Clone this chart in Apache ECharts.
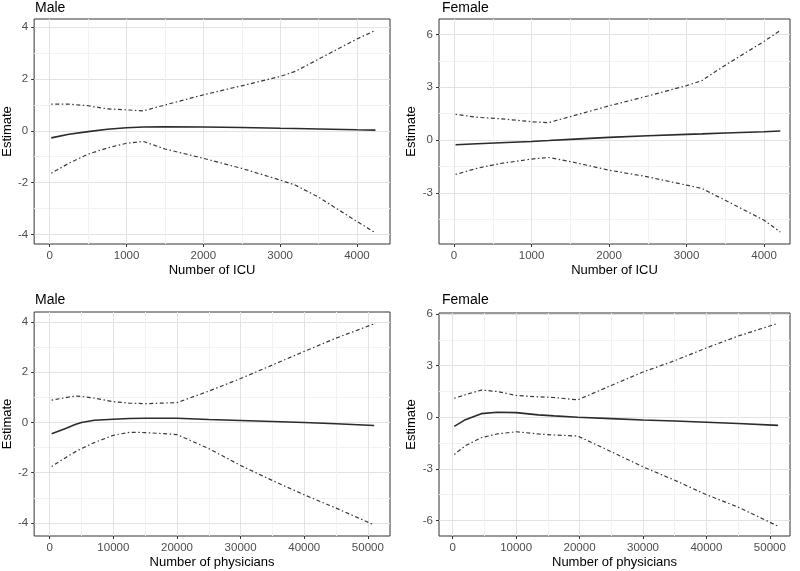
<!DOCTYPE html>
<html>
<head>
<meta charset="utf-8">
<script src="https://cdn.jsdelivr.net/npm/echarts@6/dist/echarts.min.js"></script>
<style>html,body{margin:0;padding:0;background:#fff;}#c{width:800px;height:571px;}</style>
</head>
<body>
<div id="c"></div>
<script>
// ---------- Data ----------
// Panel A: Male, Number of ICU
var icuMaleX     = [20, 250, 500, 750, 1000, 1220, 1500, 2000, 2500, 3000, 3200, 3500, 4000, 4240];
var icuMaleEst   = [-0.27, -0.13, -0.03, 0.06, 0.12, 0.15, 0.16, 0.15, 0.13, 0.10, 0.09, 0.07, 0.04, 0.03];
var icuMaleUpper = [1.03, 1.03, 0.97, 0.85, 0.81, 0.77, 1.00, 1.39, 1.74, 2.10, 2.30, 2.77, 3.55, 3.88];
var icuMaleLower = [-1.64, -1.25, -0.90, -0.66, -0.48, -0.41, -0.70, -1.06, -1.45, -1.90, -2.10, -2.56, -3.50, -3.94];

// Panel B: Female, Number of ICU
var icuFemaleX     = [20, 300, 600, 1000, 1220, 1500, 2000, 2500, 3000, 3200, 3500, 4000, 4210];
var icuFemaleEst   = [-0.27, -0.21, -0.15, -0.08, -0.03, 0.04, 0.15, 0.24, 0.32, 0.35, 0.40, 0.47, 0.51];
var icuFemaleUpper = [1.46, 1.29, 1.21, 1.04, 0.99, 1.33, 1.94, 2.50, 3.09, 3.38, 4.25, 5.60, 6.22];
var icuFemaleLower = [-1.95, -1.60, -1.33, -1.08, -0.99, -1.22, -1.71, -2.09, -2.56, -2.75, -3.42, -4.55, -5.22];

// Panel C: Male, Number of physicians
var phyMaleX     = [300, 2500, 4000, 5000, 7000, 10000, 12500, 15000, 17500, 20000, 25000, 30000, 35000, 40000, 45000, 51000];
var phyMaleEst   = [-0.45, -0.24, -0.08, 0.00, 0.09, 0.13, 0.16, 0.17, 0.17, 0.17, 0.12, 0.08, 0.04, 0.00, -0.05, -0.12];
var phyMaleUpper = [0.89, 0.99, 1.05, 1.04, 0.97, 0.83, 0.77, 0.75, 0.77, 0.79, 1.25, 1.75, 2.29, 2.83, 3.36, 3.93];
var phyMaleLower = [-1.75, -1.40, -1.17, -1.04, -0.80, -0.51, -0.39, -0.40, -0.44, -0.48, -1.04, -1.71, -2.31, -2.88, -3.41, -4.08];

// Panel D: Female, Number of physicians
var phyFemaleX     = [250, 2000, 4500, 7000, 10000, 13500, 16000, 19700, 25000, 30000, 35000, 40000, 45000, 51300];
var phyFemaleEst   = [-0.53, -0.14, 0.21, 0.29, 0.27, 0.14, 0.08, 0.00, -0.08, -0.16, -0.22, -0.29, -0.36, -0.47];
var phyFemaleUpper = [1.11, 1.31, 1.58, 1.50, 1.27, 1.19, 1.15, 1.01, 1.85, 2.63, 3.29, 4.03, 4.72, 5.46];
var phyFemaleLower = [-2.16, -1.65, -1.19, -0.97, -0.84, -0.97, -1.03, -1.09, -2.00, -2.88, -3.66, -4.50, -5.22, -6.33];

// Tick labels
var icuTicks      = [0, 1000, 2000, 3000, 4000];
var icuMinor      = [500, 1500, 2500, 3500];
var phyTicks      = [0, 10000, 20000, 30000, 40000, 50000];
var phyMinor      = [5000, 15000, 25000, 35000, 45000];
var maleYTicks    = [-4, -2, 0, 2, 4];
var maleYMinor    = [-3, -1, 1, 3];
var femaleYTicks  = [-6, -3, 0, 3, 6];
var femaleYMinor  = [-4.5, -1.5, 1.5, 4.5];

var panelTitles = ['Male', 'Female', 'Male', 'Female'];
var xNames = ['Number of ICU', 'Number of ICU', 'Number of physicians', 'Number of physicians'];
var yName = 'Estimate';

// ---------- Layout ----------
var FONT = 'Liberation Sans, Arial, sans-serif';
var panels = [
  {grid: {left: 32, top: 19, width: 358, height: 225}, xr: [-203, 4430], yr: [-4.37, 4.32],
   xt: icuTicks, xm: icuMinor, yt: maleYTicks, ym: maleYMinor,
   x: icuMaleX, est: icuMaleEst, up: icuMaleUpper, lo: icuMaleLower, yGap: 17, tTop: -4},
  {grid: {left: 439, top: 19, width: 351, height: 225}, xr: [-194, 4335], yr: [-5.9, 6.87],
   xt: icuTicks, xm: icuMinor, yt: femaleYTicks, ym: femaleYMinor,
   x: icuFemaleX, est: icuFemaleEst, up: icuFemaleUpper, lo: icuFemaleLower, yGap: 21, tTop: -4},
  {grid: {left: 32, top: 312, width: 358, height: 224}, xr: [-2450, 53480], yr: [-4.52, 4.4],
   xt: phyTicks, xm: phyMinor, yt: maleYTicks, ym: maleYMinor,
   x: phyMaleX, est: phyMaleEst, up: phyMaleUpper, lo: phyMaleLower, yGap: 17, tTop: 288},
  {grid: {left: 439, top: 313, width: 351, height: 223}, xr: [-2160, 53180], yr: [-6.9, 6.06],
   xt: phyTicks, xm: phyMinor, yt: femaleYTicks, ym: femaleYMinor,
   x: phyFemaleX, est: phyFemaleEst, up: phyFemaleUpper, lo: phyFemaleLower, yGap: 21, tTop: 288}
];

function zip(xs, ys) { return xs.map(function (v, i) { return [v, ys[i]]; }); }
function plain(v) { return String(v); }

var option = {
  backgroundColor: '#ffffff',
  animation: false,
  textStyle: {fontFamily: FONT},
  title: [], grid: [], xAxis: [], yAxis: [], series: []
};

panels.forEach(function (p, i) {
  option.title.push({
    text: panelTitles[i], left: p.grid.left - 2, top: p.tTop,
    textStyle: {fontSize: 14, fontWeight: 'normal', color: '#000', fontFamily: FONT}
  });
  option.grid.push({
    left: p.grid.left, top: p.grid.top, width: p.grid.width, height: p.grid.height,
    show: true, borderColor: '#333333', borderWidth: 1, backgroundColor: '#ffffff'
  });
  var gi = i;
  var minorX = {
    type: 'value', gridIndex: gi, min: p.xr[0], max: p.xr[1], position: 'bottom',
    axisLine: {show: false, onZero: false}, axisLabel: {show: false},
    axisTick: {show: false, customValues: p.xm},
    splitLine: {show: true, lineStyle: {color: '#f2f2f2', width: 1}}
  };
  var mainX = {
    type: 'value', gridIndex: gi, min: p.xr[0], max: p.xr[1], position: 'bottom',
    name: xNames[i], nameLocation: 'middle', nameGap: 20,
    nameTextStyle: {fontSize: 13, color: '#000', fontFamily: FONT},
    axisLine: {show: false, onZero: false},
    axisTick: {show: true, length: 3, lineStyle: {color: '#333', width: 1}, customValues: p.xt},
    axisLabel: {show: true, margin: 6, fontSize: 11.5, color: '#4d4d4d', fontFamily: FONT,
                customValues: p.xt, formatter: plain},
    splitLine: {show: true, lineStyle: {color: '#e3e3e3', width: 1}}
  };
  var minorY = {
    type: 'value', gridIndex: gi, min: p.yr[0], max: p.yr[1], position: 'left',
    axisLine: {show: false, onZero: false}, axisLabel: {show: false},
    axisTick: {show: false, customValues: p.ym},
    splitLine: {show: true, lineStyle: {color: '#f2f2f2', width: 1}}
  };
  var mainY = {
    type: 'value', gridIndex: gi, min: p.yr[0], max: p.yr[1], position: 'left',
    name: yName, nameLocation: 'middle', nameGap: p.yGap, nameRotate: 90,
    nameTextStyle: {fontSize: 13, color: '#000', fontFamily: FONT},
    axisLine: {show: false, onZero: false},
    axisTick: {show: true, length: 3, lineStyle: {color: '#333', width: 1}, customValues: p.yt},
    axisLabel: {show: true, margin: 6, fontSize: 11.5, color: '#4d4d4d', fontFamily: FONT,
                customValues: p.yt, formatter: plain},
    splitLine: {show: true, lineStyle: {color: '#e3e3e3', width: 1}}
  };
  option.xAxis.push(minorX); var mx = option.xAxis.length;
  option.xAxis.push(mainX);
  option.yAxis.push(minorY); var my = option.yAxis.length;
  option.yAxis.push(mainY);

  var dash = [1.5, 2.5, 4, 2.5];
  option.series.push({
    type: 'line', xAxisIndex: mx, yAxisIndex: my, data: zip(p.x, p.up),
    showSymbol: false, symbol: 'none', smooth: false,
    lineStyle: {color: '#3a3a3a', width: 1.2, type: dash}
  });
  option.series.push({
    type: 'line', xAxisIndex: mx, yAxisIndex: my, data: zip(p.x, p.lo),
    showSymbol: false, symbol: 'none', smooth: false,
    lineStyle: {color: '#3a3a3a', width: 1.2, type: dash}
  });
  option.series.push({
    type: 'line', xAxisIndex: mx, yAxisIndex: my, data: zip(p.x, p.est),
    showSymbol: false, symbol: 'none', smooth: false,
    lineStyle: {color: '#2b2b2b', width: 1.6, type: 'solid'}
  });
});

var chart = echarts.init(document.getElementById('c'), null, {renderer: 'canvas'});
chart.setOption(option);
</script>
</body>
</html>
